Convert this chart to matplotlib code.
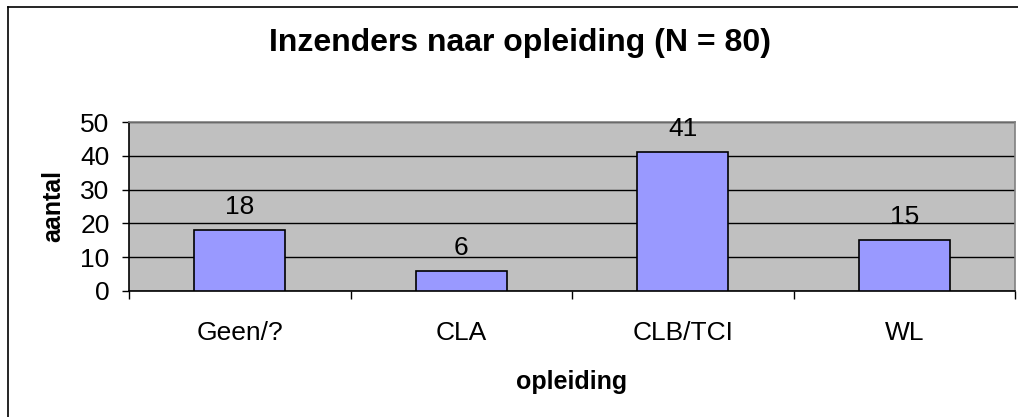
import matplotlib
matplotlib.use("Agg")
import matplotlib.pyplot as plt
from matplotlib.lines import Line2D

# ---------------------------------------------------------------------------
# Data
# ---------------------------------------------------------------------------
categories = ["Geen/?", "CLA", "CLB/TCI", "WL"]
counts = [18, 6, 41, 15]
y_ticks = [0, 10, 20, 30, 40, 50]

title = "Inzenders naar opleiding (N = 80)"
x_label = "opleiding"
y_label = "aantal"

plt.rcParams["font.family"] = ["Liberation Sans", "DejaVu Sans"]

W, H = 1018, 417
fig = plt.figure(figsize=(W / 100, H / 100), dpi=100)
fig.patch.set_facecolor("white")

# plot area in pixel coords -> figure fractions
left, right, top, bottom = 129, 1015, 122, 291
ax = fig.add_axes([left / W, 1 - bottom / H, (right - left) / W, (bottom - top) / H])
ax.set_facecolor("#C0C0C0")

x = range(len(categories))
ax.bar(x, counts, width=0.41, color="#9999FF", edgecolor="black", linewidth=1.2, zorder=3)

for xi, v in zip(x, counts):
    ax.annotate(str(v), (xi, v), xytext=(0, 8), textcoords="offset points",
                ha="center", va="bottom", fontsize=19)

ax.set_xlim(-0.5, len(categories) - 0.5)
ax.set_ylim(0, 50)
ax.set_yticks(y_ticks)
ax.set_yticklabels([str(t) for t in y_ticks], fontsize=19)
ax.yaxis.grid(True, color="black", linewidth=1.0, zorder=0)
ax.set_axisbelow(True)

# category ticks sit between the categories, labels in the middle
ax.set_xticks([i - 0.5 for i in range(len(categories) + 1)])
ax.set_xticklabels([])
ax.set_xticks(list(x), minor=True)
ax.set_xticklabels(categories, minor=True, fontsize=19)
ax.tick_params(axis="x", which="minor", length=0, pad=21.5)
ax.tick_params(axis="x", which="major", length=6, width=1, color="black")
ax.tick_params(axis="y", length=5, width=1, pad=9, color="black")

for name, sp in ax.spines.items():
    sp.set_color("#808080")
    sp.set_linewidth(1.2)
ax.spines["left"].set_color("black")
ax.spines["bottom"].set_color("black")

ax.set_xlabel(x_label, fontsize=18, fontweight="bold", labelpad=18)
ax.set_ylabel(y_label, fontsize=18, fontweight="bold", labelpad=11)

fig.text(520 / W, 1 - 43 / H, title, ha="center", va="center",
         fontsize=23, fontweight="bold")

# chart border (only left and top visible in the crop)
fig.add_artist(Line2D([7.5 / W, 7.5 / W], [0, 1 - 7 / H], color="black", linewidth=1.2))
fig.add_artist(Line2D([7.5 / W, 1], [1 - 7 / H, 1 - 7 / H], color="black", linewidth=1.2))

fig.savefig("out.png", dpi=100, facecolor="white")
